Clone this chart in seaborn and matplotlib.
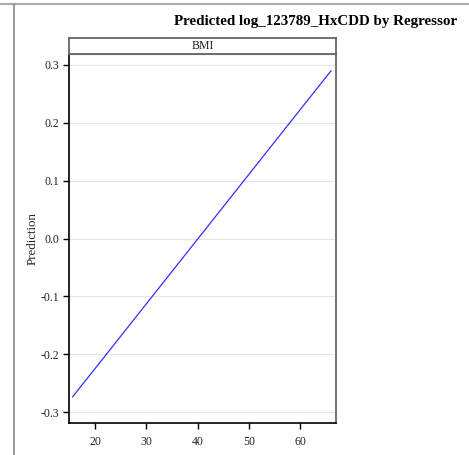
import matplotlib
matplotlib.use("Agg")
import matplotlib.pyplot as plt
from matplotlib.lines import Line2D
import seaborn as sns
import pandas as pd

bmi = [15.6, 20, 30, 40, 50, 60, 66.0]
prediction = [-0.274, -0.225, -0.113, -0.001, 0.111, 0.223, 0.290]
yticks = [-0.3, -0.2, -0.1, 0.0, 0.1, 0.2, 0.3]
xticks = [20, 30, 40, 50, 60]
title = "Predicted log_123789_HxCDD by Regressor"
panel = "BMI"

sns.set_theme(style="white")
plt.rcParams['font.family'] = ['Liberation Serif', 'DejaVu Serif']

df = pd.DataFrame({"BMI": bmi, "Prediction": prediction})

W, H = 469, 455
fig = plt.figure(figsize=(W/100, H/100), dpi=100)
ax = fig.add_axes([69/W, 1-423/H, (336-69)/W, (423-54)/H])
sns.lineplot(data=df, x="BMI", y="Prediction", ax=ax, color="#3030ff", linewidth=0.9)
ax.set_xlim(14.93, 66.96)
ax.set_ylim(-0.319, 0.319)
ax.set_yticks(yticks)
ax.set_yticklabels([f"{v:.1f}" for v in yticks])
ax.set_xticks(xticks)
ax.yaxis.grid(True, color="#e6e6e6", linewidth=0.8)
ax.xaxis.grid(False)
ax.tick_params(axis="both", direction="out", length=4.3, width=1, color="black",
               labelsize=8.5, labelcolor="#222222", left=True, bottom=True)
ax.tick_params(axis="x", pad=5)
ax.tick_params(axis="y", pad=2.5)
ax.set_xlabel("")
ax.set_ylabel("Prediction", fontsize=9.3, color="#222222", labelpad=2)
for s in ["left", "bottom"]:
    ax.spines[s].set_color("black")
    ax.spines[s].set_linewidth(1.2)
for s in ["right", "top"]:
    ax.spines[s].set_color("#777777")
    ax.spines[s].set_linewidth(1.5)

# strip
sax = fig.add_axes([69/W, 1-54/H, (336-69)/W, (54-38)/H])
sax.set_xticks([]); sax.set_yticks([])
sax.set_facecolor("white")
for s in sax.spines.values():
    s.set_color("#666666")
    s.set_linewidth(1.3)
sax.text(0.5, 0.5, panel, ha="center", va="center", fontsize=8.5, color="#222222",
         transform=sax.transAxes)

fig.text(316/W, 1-22/H, title, ha="center", va="center", fontsize=10.8,
         fontweight="bold", color="black")

# outer frame lines
fig.add_artist(Line2D([0, 1], [1-3.5/H, 1-3.5/H], color="#aaaaaa", linewidth=1.5,
                      transform=fig.transFigure))
fig.add_artist(Line2D([13.5/W, 13.5/W], [0, 1-3.5/H], color="#888888", linewidth=1.2,
                      transform=fig.transFigure))

fig.savefig("out.png", dpi=100)
